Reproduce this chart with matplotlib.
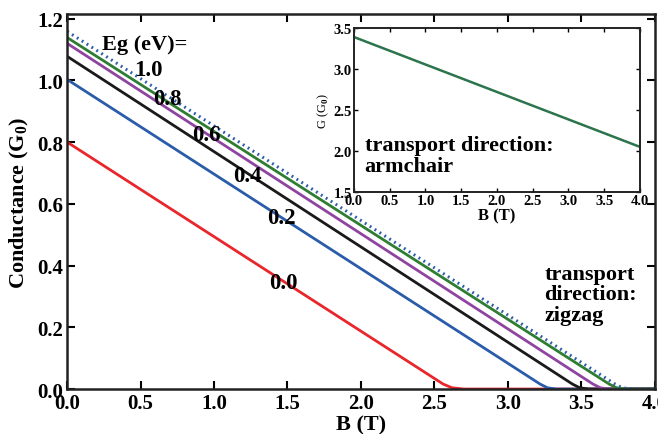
import matplotlib
matplotlib.use("Agg")
import matplotlib.pyplot as plt

plt.rcParams['font.family'] = ['Liberation Serif', 'DejaVu Serif']
plt.rcParams['font.weight'] = 'bold'
plt.rcParams['mathtext.fontset'] = 'custom'
plt.rcParams['mathtext.rm'] = 'Liberation Serif'
plt.rcParams['mathtext.bf'] = 'Liberation Serif:bold'

# zigzag conductance vs B for each gap
b_00 = [0.0, 2.56, 2.62, 2.70, 4.0]
g_00 = [0.80, 0.016, 0.004, 0.0, 0.0]
b_02 = [0.0, 3.22, 3.27, 3.33, 4.0]
g_02 = [1.003, 0.016, 0.004, 0.0, 0.0]
b_04 = [0.0, 3.44, 3.49, 3.55, 4.0]
g_04 = [1.078, 0.016, 0.004, 0.0, 0.0]
b_06 = [0.0, 3.58, 3.63, 3.69, 4.0]
g_06 = [1.120, 0.016, 0.004, 0.0, 0.0]
b_08 = [0.0, 3.69, 3.74, 3.80, 4.0]
g_08 = [1.139, 0.016, 0.004, 0.0, 0.0]
b_10 = [0.0, 3.73, 3.78, 3.84, 4.0]
g_10 = [1.159, 0.016, 0.004, 0.0, 0.0]

# armchair inset
b_arm = [0.0, 1.0, 2.0, 3.0, 4.0]
g_arm = [3.39, 3.055, 2.72, 2.385, 2.05]

gap_labels = ['0.0', '0.2', '0.4', '0.6', '0.8', '1.0']
label_b = [1.47, 1.46, 1.23, 0.95, 0.68, 0.55]
label_g = [0.346, 0.556, 0.693, 0.825, 0.94, 1.036]

fig = plt.figure(figsize=(6.58, 4.35), dpi=100)
ax = fig.add_axes([0.102, 0.1034, 0.893, 0.862])

ax.plot(b_00, g_00, color='#e8262b', lw=2.0)
ax.plot(b_02, g_02, color='#2a5caa', lw=2.0)
ax.plot(b_04, g_04, color='#1a1a1a', lw=2.0)
ax.plot(b_06, g_06, color='#8e44a0', lw=2.0)
ax.plot(b_08, g_08, color='#2e7d32', lw=2.0)
ax.plot(b_10, g_10, color='#2a5caa', lw=2.2, ls=(0, (0.6, 1.3)))

for lab, x, y in zip(gap_labels, label_b, label_g):
    ax.text(x, y, lab, fontsize=16.5, fontweight='bold', ha='center', va='center')
ax.text(0.53, 1.117, 'Eg (eV)=', fontsize=16, fontweight='bold', ha='center', va='center')
ax.text(3.25, 0.307, 'transport\ndirection:\nzigzag', fontsize=16, fontweight='bold',
        ha='left', va='center', linespacing=1.05)

ax.set_xlim(0, 4)
ax.set_ylim(0, 1.215)
ax.set_xticks([0, 0.5, 1.0, 1.5, 2.0, 2.5, 3.0, 3.5, 4.0])
ax.set_yticks([0, 0.2, 0.4, 0.6, 0.8, 1.0, 1.2])
ax.xaxis.set_major_formatter(matplotlib.ticker.FormatStrFormatter('%.1f'))
ax.yaxis.set_major_formatter(matplotlib.ticker.FormatStrFormatter('%.1f'))
ax.tick_params(direction='in', top=True, right=True, length=6, width=1.5,
               labelsize=15, pad=3)
for lab in ax.get_xticklabels() + ax.get_yticklabels():
    lab.set_fontweight('bold')
for s in ax.spines.values():
    s.set_linewidth(1.8)
    s.set_color('#222222')
ax.set_xlabel('B (T)', fontsize=16, fontweight='bold', labelpad=1)
ax.set_ylabel(r'Conductance (G$_{\mathbf{0}}$)', fontsize=16, fontweight='bold', labelpad=4)

# inset
ins = fig.add_axes([0.538, 0.5563, 0.4346, 0.377])
ins.plot(b_arm, g_arm, color='#2e7d32', lw=1.8)
ins.plot(b_arm, g_arm, color='#2a5caa', lw=1.0, ls=(0, (1, 1.5)))
ins.set_xlim(0, 4)
ins.set_ylim(1.5, 3.5)
ins.set_xticks([0, 0.5, 1.0, 1.5, 2.0, 2.5, 3.0, 3.5, 4.0])
ins.set_yticks([1.5, 2.0, 2.5, 3.0, 3.5])
ins.xaxis.set_major_formatter(matplotlib.ticker.FormatStrFormatter('%.1f'))
ins.yaxis.set_major_formatter(matplotlib.ticker.FormatStrFormatter('%.1f'))
ins.tick_params(direction='in', top=True, right=True, length=3, width=1.0,
                labelsize=10.5, pad=1.5)
for lab in ins.get_xticklabels() + ins.get_yticklabels():
    lab.set_fontweight('bold')
for s in ins.spines.values():
    s.set_linewidth(1.4)
    s.set_color('#222222')
ins.set_xlabel('B (T)', fontsize=12, fontweight='bold', labelpad=0)
ins.set_ylabel(r'G (G$_{0}$)', fontsize=9, fontweight='normal', labelpad=2)
ins.text(0.15, 1.945, 'transport direction:\narmchair', fontsize=16, fontweight='bold',
         ha='left', va='center', linespacing=1.05)

fig.savefig('out.png', dpi=100)
